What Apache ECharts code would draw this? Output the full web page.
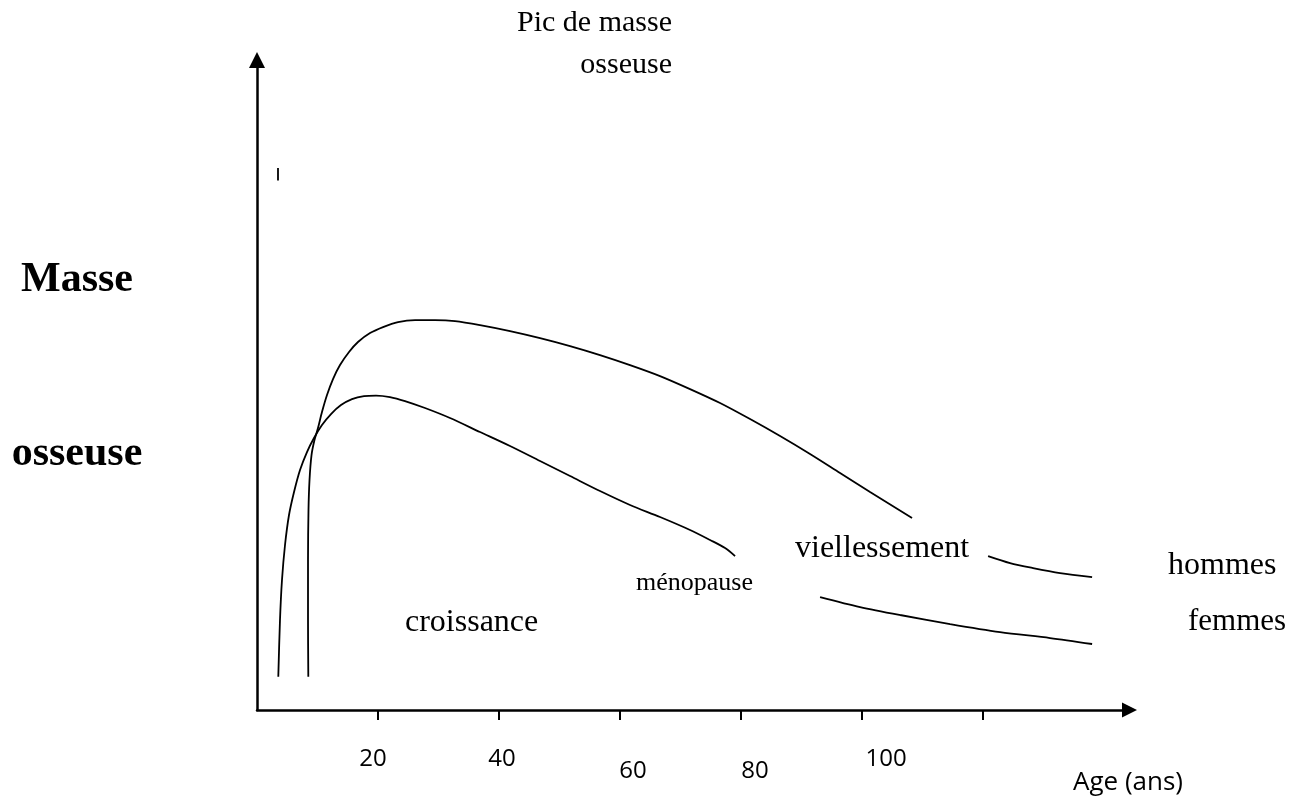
<!DOCTYPE html>
<html>
<head>
<meta charset="utf-8">
<script src="https://cdn.jsdelivr.net/npm/echarts@6/dist/echarts.min.js"></script>
<style>
html,body{margin:0;padding:0;background:#fff;}
#c{width:1305px;height:799px;}
</style>
</head>
<body>
<div id="c"></div>
<script>
// Age (x) and bone mass (y, arbitrary units); null = gap in the curve
const ageHommes = [8.48, 8.43, 8.43, 8.51, 8.68, 9.01, 9.50, 10.08, 10.74, 11.57, 12.56, 13.72, 15.21, 16.69, 18.68, 20.83, 23.31, 26.12, 29.42, 32.73, 36.86, 41.82, 46.78, 51.74, 56.69, 61.65, 66.61, 71.57, 76.53, 81.49, 86.45, 91.4, 96.36, 101.32, 108.26, null, 120.83, 124.46, 128.26, 132.73, 138.02];
const masseHommes = [5.06, 13.68, 22.8, 30.4, 34.95, 38.75, 41.03, 42.86, 45.29, 47.87, 50.3, 52.43, 54.41, 55.93, 57.29, 58.21, 58.97, 59.27, 59.27, 59.12, 58.51, 57.6, 56.53, 55.32, 53.95, 52.43, 50.76, 48.78, 46.66, 44.22, 41.64, 38.91, 36.02, 33.13, 29.18, null, 23.4, 22.34, 21.58, 20.82, 20.21];
const ageFemmes = [3.52, 3.8, 4.13, 4.63, 5.29, 6.12, 7.11, 8.26, 9.42, 10.74, 12.23, 13.88, 15.7, 17.69, 19.67, 21.98, 24.46, 27.77, 31.9, 36.86, 41.82, 46.78, 51.74, 56.69, 61.65, 66.61, 71.57, 74.88, 77.36, 79.01, null, 93.06, 99.67, 106.28, 114.55, 122.81, 131.07, 138.02];
const masseFemmes = [5.06, 13.68, 19.76, 25.08, 29.64, 33.13, 36.47, 39.21, 41.34, 43.31, 44.98, 46.35, 47.26, 47.72, 47.8, 47.57, 46.96, 45.9, 44.38, 42.25, 40.12, 37.84, 35.56, 33.28, 31.16, 29.33, 27.36, 25.84, 24.62, 23.4, null, 17.17, 15.65, 14.44, 13.07, 11.85, 10.94, 10.03];
const ageMarque = [3.47, 3.47];
const masseMarque = [80.5, 82.4];
const tickValues = [20, 40, 60, 80, 100, 120];
const tickLabels = ['20', '40', '60', '80', '100'];

function pairs(xs, ys) {
  return xs.map((x, i) => (x == null || ys[i] == null) ? ['-', '-'] : [x, ys[i]]);
}

const chart = echarts.init(document.getElementById('c'), null, {renderer: 'canvas'});
const serif = 'Liberation Serif, Times New Roman, serif';
const sans = 'Open Sans, sans-serif';

const labelRich = {
  l0: {fontFamily: sans, fontSize: 24, color: '#000', padding: [0, 10, 0, 0]},
  l1: {fontFamily: sans, fontSize: 24, color: '#000', padding: [0, 0, 0, 6]},
  l2: {fontFamily: sans, fontSize: 24, color: '#000', padding: [12, 0, 0, 26]},
  l3: {fontFamily: sans, fontSize: 24, color: '#000', padding: [12, 0, 0, 28]},
  l4: {fontFamily: sans, fontSize: 24, color: '#000', padding: [0, 0, 0, 48]}
};

function txt(text, x, y, size, opts) {
  return {
    type: 'text', x: x, y: y, silent: true,
    style: Object.assign({text: text, fill: '#000', fontSize: size, fontFamily: serif,
      textAlign: 'left', textVerticalAlign: 'middle'}, (opts || {}))
  };
}

const option = {
  animation: false,
  backgroundColor: '#fff',
  grid: {left: 257, right: 175.5, top: 60, bottom: 89, containLabel: false},
  xAxis: {
    type: 'value', min: 0, max: 144.2,
    splitLine: {show: false},
    axisLine: {show: true, onZero: false, symbol: ['none', 'triangle'], symbolSize: [15, 15],
      lineStyle: {color: '#000', width: 2.5}},
    axisTick: {show: true, inside: false, length: 10, customValues: tickValues,
      lineStyle: {color: '#000', width: 2}},
    axisLabel: {
      show: true, margin: 37,
      customValues: tickValues.slice(0, tickLabels.length),
      formatter: function (v) {
        const i = tickValues.indexOf(v);
        return i >= 0 && i < tickLabels.length ? '{l' + i + '|' + tickLabels[i] + '}' : '';
      },
      rich: labelRich
    }
  },
  yAxis: {
    type: 'value', min: 0, max: 98.8,
    splitLine: {show: false},
    axisTick: {show: false},
    axisLabel: {show: false},
    axisLine: {show: true, onZero: false, symbol: ['none', 'triangle'], symbolSize: [16, 16],
      lineStyle: {color: '#000', width: 2.5}}
  },
  series: [
    {name: 'hommes', type: 'line', data: pairs(ageHommes, masseHommes), smooth: 0.3,
      showSymbol: false, symbol: 'none', connectNulls: false, clip: false,
      lineStyle: {color: '#000', width: 1.8}},
    {name: 'femmes', type: 'line', data: pairs(ageFemmes, masseFemmes), smooth: 0.3,
      showSymbol: false, symbol: 'none', connectNulls: false, clip: false,
      lineStyle: {color: '#000', width: 1.8}},
    {name: 'marque', type: 'line', data: pairs(ageMarque, masseMarque),
      showSymbol: false, symbol: 'none', lineStyle: {color: '#000', width: 1.8}}
  ],
  graphic: [
    txt('Pic de masse', 672, 23, 30, {textAlign: 'right'}),
    txt('osseuse', 672, 65, 30, {textAlign: 'right'}),
    txt('Masse', 77, 280, 42, {textAlign: 'center', fontWeight: 'bold'}),
    txt('osseuse', 77, 454, 42, {textAlign: 'center', fontWeight: 'bold'}),
    txt('croissance', 405, 623, 32),
    txt('ménopause', 636, 583, 26),
    txt('viellessement', 795, 549, 32),
    txt('hommes', 1168, 566, 32),
    txt('femmes', 1188, 622, 31),
    txt('Age (ans)', 1073, 783, 26, {fontFamily: sans})
  ]
};
chart.setOption(option);
</script>
</body>
</html>
